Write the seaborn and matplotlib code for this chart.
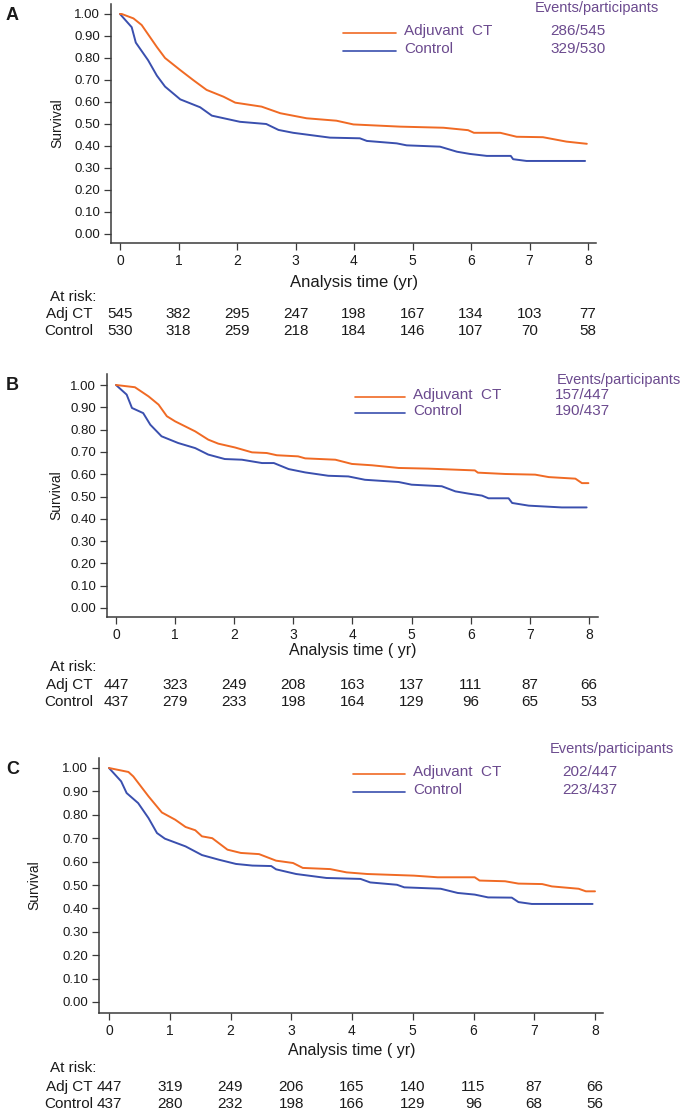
import matplotlib
matplotlib.use("Agg")
import matplotlib.pyplot as plt
import matplotlib.transforms as mtransforms
import seaborn as sns

# ---- data (survival curves, at-risk table, events) ----
A_ct_t = [0, 0.03, 0.23, 0.37, 0.63, 0.77, 1.03, 1.25, 1.48, 1.77, 1.97, 2.42, 2.74, 3.19,
          3.70, 3.99, 4.79, 5.53, 5.95, 6.05, 6.50, 6.78, 7.23, 7.63, 7.98]
A_ct_s = [1.0, 1.0, 0.98, 0.95, 0.85, 0.80, 0.745, 0.70, 0.655, 0.624, 0.597, 0.579, 0.549, 0.526,
          0.515, 0.498, 0.488, 0.483, 0.472, 0.46, 0.46, 0.442, 0.44, 0.42, 0.41]
A_ctl_t = [0, 0.2, 0.27, 0.48, 0.63, 0.77, 1.03, 1.37, 1.57, 2.05, 2.5, 2.71, 2.96, 3.59, 4.10,
           4.22, 4.73, 4.90, 5.47, 5.76, 5.98, 6.27, 6.68, 6.72, 6.95, 7.95]
A_ctl_s = [1.0, 0.94, 0.87, 0.79, 0.72, 0.67, 0.612, 0.576, 0.538, 0.51, 0.50, 0.473, 0.46, 0.438,
           0.435, 0.423, 0.412, 0.403, 0.397, 0.374, 0.364, 0.355, 0.355, 0.34, 0.332, 0.332]

B_ct_t = [0, 0.32, 0.55, 0.72, 0.86, 1.0, 1.34, 1.56, 1.73, 2.01, 2.30, 2.55, 2.72, 3.08, 3.2,
          3.71, 3.99, 4.33, 4.78, 5.28, 6.07, 6.12, 6.58, 7.09, 7.32, 7.77, 7.88, 7.99]
B_ct_s = [1.0, 0.99, 0.949, 0.912, 0.86, 0.837, 0.792, 0.755, 0.737, 0.72, 0.698, 0.695, 0.685,
          0.68, 0.671, 0.665, 0.646, 0.64, 0.628, 0.625, 0.617, 0.607, 0.601, 0.598, 0.587, 0.58,
          0.56, 0.56]
B_ctl_t = [0, 0.18, 0.27, 0.46, 0.58, 0.77, 1.05, 1.34, 1.56, 1.84, 2.13, 2.47, 2.67, 2.92, 3.2,
           3.59, 3.93, 4.21, 4.78, 5.0, 5.51, 5.74, 5.96, 6.19, 6.30, 6.64, 6.70, 6.98, 7.54, 7.96]
B_ctl_s = [1.0, 0.957, 0.897, 0.874, 0.822, 0.77, 0.74, 0.717, 0.688, 0.668, 0.665, 0.65, 0.65,
           0.623, 0.608, 0.593, 0.59, 0.575, 0.565, 0.553, 0.546, 0.523, 0.513, 0.504, 0.492,
           0.492, 0.471, 0.459, 0.451, 0.451]

C_ct_t = [0, 0.32, 0.40, 0.65, 0.87, 1.09, 1.26, 1.42, 1.53, 1.70, 1.95, 2.17, 2.47, 2.75, 3.03,
          3.19, 3.64, 3.91, 4.25, 5.02, 5.41, 6.02, 6.10, 6.52, 6.74, 7.13, 7.29, 7.73, 7.85, 8.0]
C_ct_s = [1.0, 0.983, 0.964, 0.879, 0.81, 0.779, 0.748, 0.734, 0.708, 0.70, 0.651, 0.637, 0.632,
          0.604, 0.594, 0.573, 0.568, 0.554, 0.547, 0.540, 0.533, 0.533, 0.519, 0.516, 0.506,
          0.504, 0.494, 0.484, 0.473, 0.473]
C_ctl_t = [0, 0.20, 0.29, 0.48, 0.65, 0.79, 0.92, 1.26, 1.53, 1.81, 2.09, 2.36, 2.67, 2.75, 3.08,
           3.58, 4.14, 4.30, 4.74, 4.86, 5.46, 5.74, 6.02, 6.24, 6.63, 6.74, 6.96, 7.96]
C_ctl_s = [1.0, 0.943, 0.893, 0.85, 0.786, 0.722, 0.698, 0.665, 0.628, 0.608, 0.59, 0.583, 0.581,
           0.567, 0.547, 0.530, 0.526, 0.511, 0.501, 0.49, 0.484, 0.466, 0.459, 0.447, 0.446,
           0.427, 0.419, 0.419]

years = [0, 1, 2, 3, 4, 5, 6, 7, 8]
A_risk_ct = [545, 382, 295, 247, 198, 167, 134, 103, 77]
A_risk_ctl = [530, 318, 259, 218, 184, 146, 107, 70, 58]
B_risk_ct = [447, 323, 249, 208, 163, 137, 111, 87, 66]
B_risk_ctl = [437, 279, 233, 198, 164, 129, 96, 65, 53]
C_risk_ct = [447, 319, 249, 206, 165, 140, 115, 87, 66]
C_risk_ctl = [437, 280, 232, 198, 166, 129, 96, 68, 56]

A_events = ["286/545", "329/530"]
B_events = ["157/447", "190/437"]
C_events = ["202/447", "223/437"]

ORANGE = "#F06A24"
BLUE = "#3A4FAE"
PURPLE = "#6B4A8E"
INK = "#1a1a1a"
AXC = "#3a3a3a"
NARROW = ["Liberation Sans Narrow", "Liberation Sans", "DejaVu Sans"]

W, H = 686, 1111

sns.set_theme(style="ticks")
plt.rcParams["font.family"] = ["Liberation Sans", "DejaVu Sans"]

fig = plt.figure(figsize=(W / 100, H / 100), dpi=100)


def fx(px):
    return px / W


def fy(py):
    return 1 - py / H


def panel(letter, px_left, px_right, px_top, px_bottom, x0, x8, y1, y0,
          ct_t, ct_s, ctl_t, ctl_s, risk_ct, risk_ctl, events,
          rows_y, leg, ylab_x, xlabel, xlab_size):
    ax = fig.add_axes([fx(px_left), fy(px_bottom), fx(px_right - px_left),
                       (px_bottom - px_top) / H])
    # data limits from pixel geometry
    ppy = (x8 - x0) / 8.0
    ax.set_xlim((px_left - x0) / ppy, (px_right - x0) / ppy)
    ppv = (y0 - y1)
    ax.set_ylim((y0 - px_bottom) / ppv, (y0 - px_top) / ppv)

    sns.lineplot(x=ctl_t, y=ctl_s, color=BLUE, lw=1.4, ax=ax, estimator=None, sort=False)
    sns.lineplot(x=ct_t, y=ct_s, color=ORANGE, lw=1.4, ax=ax, estimator=None, sort=False)

    ax.set_xticks(years)
    ax.set_xticklabels([str(y) for y in years], fontsize=10, color=INK)
    yt = [i / 10 for i in range(11)]
    ax.set_yticks(yt)
    ax.set_yticklabels([f"{v:.2f}" for v in yt], fontsize=9.5, color=INK)
    ax.tick_params(direction="out", length=5, width=0.9, color=AXC, pad=3)
    for s in ["top", "right"]:
        ax.spines[s].set_visible(False)
    for s in ["left", "bottom"]:
        ax.spines[s].set_color(AXC)
        ax.spines[s].set_linewidth(1.1)
    ax.set_xlabel("")
    ax.set_ylabel("Survival", fontsize=10, color=INK)
    ax.yaxis.set_label_coords((ylab_x - px_left) / (px_right - px_left), 0.5)

    # panel letter
    fig.text(fx(6), fy(px_top + 11), letter, fontsize=13, fontweight="bold",
             color=INK, va="center", ha="left")

    # x axis title + at-risk table
    tr = mtransforms.blended_transform_factory(ax.transData, fig.transFigure)
    ty_lab, ty_hdr, ty_ct, ty_ctl = rows_y
    fig.text(fx(x0 + 4 * ppy), fy(ty_lab), xlabel, fontsize=xlab_size, color=INK,
             ha="center", va="center", family=NARROW)
    fig.text(fx(50), fy(ty_hdr), "At risk:", fontsize=11, color=INK, ha="left",
             va="center", family=NARROW)
    fig.text(fx(93), fy(ty_ct), "Adj CT", fontsize=11, color=INK, ha="right",
             va="center", family=NARROW)
    fig.text(fx(93), fy(ty_ctl), "Control", fontsize=11, color=INK, ha="right",
             va="center", family=NARROW)
    for yr, a, c in zip(years, risk_ct, risk_ctl):
        ax.text(yr, fy(ty_ct), str(a), transform=tr, fontsize=11, color=INK,
                ha="center", va="center", family=NARROW)
        ax.text(yr, fy(ty_ctl), str(c), transform=tr, fontsize=11, color=INK,
                ha="center", va="center", family=NARROW)

    # legend block
    lx0, lx1, ltxt, hdr_x, num_x, y_hdr, y_ct, y_ctl = leg
    fig.text(fx(hdr_x), fy(y_hdr), "Events/participants", fontsize=10.5, color=PURPLE,
             ha="center", va="center")
    for yy, col, name, ev in [(y_ct, ORANGE, "Adjuvant  CT", events[0]),
                              (y_ctl, BLUE, "Control", events[1])]:
        fig.add_artist(plt.Line2D([fx(lx0), fx(lx1)], [fy(yy + 2), fy(yy + 2)],
                                  color=col, lw=1.2, transform=fig.transFigure))
        fig.text(fx(ltxt), fy(yy), name, fontsize=11, color=PURPLE, ha="left", va="center")
        fig.text(fx(num_x), fy(yy), ev, fontsize=11, color=PURPLE, ha="center", va="center")
    return ax


panel("A", 111, 596, 4, 243, 120, 588, 14, 234,
      A_ct_t, A_ct_s, A_ctl_t, A_ctl_s, A_risk_ct, A_risk_ctl, A_events,
      (283, 297, 314, 331), (343, 396, 404, 597, 578, 8, 31, 49), 64,
      "Analysis time (yr)", 12)

panel("B", 107, 598, 374, 617, 116, 589, 385, 608,
      B_ct_t, B_ct_s, B_ctl_t, B_ctl_s, B_risk_ct, B_risk_ctl, B_events,
      (650, 667, 685, 702), (355, 405, 413, 619, 582, 380, 395, 411), 63,
      "Analysis time ( yr)", 11.5)

panel("C", 99, 603, 758, 1013, 109, 595, 768, 1002,
      C_ct_t, C_ct_s, C_ctl_t, C_ctl_s, C_risk_ct, C_risk_ctl, C_events,
      (1050, 1068, 1087, 1104), (353, 405, 413, 612, 590, 749, 772, 790), 41,
      "Analysis time ( yr)", 11.5)

fig.savefig("out.png", dpi=100)
